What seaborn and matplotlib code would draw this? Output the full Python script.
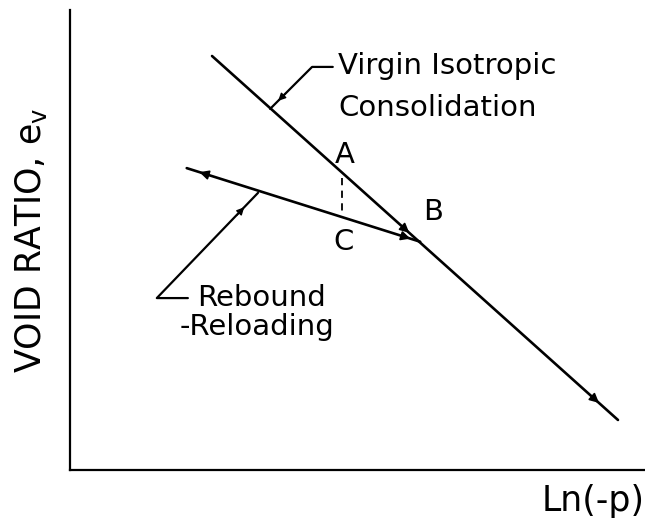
import matplotlib
matplotlib.use("Agg")
import matplotlib.pyplot as plt
import numpy as np
import pandas as pd
import seaborn as sns

# Idealised e - ln(-p) relations (arbitrary units)
ln_p_virgin = [2.47, 9.53]
e_virgin = [7.20, 0.87]
ln_p_rebound = [2.03, 6.09]
e_rebound = [5.25, 3.97]
ln_p_ac = 4.73  # abscissa of the A-C comparison

sns.set_style("white")
plt.rcParams["font.family"] = ["DejaVu Sans"]
plt.rcParams["text.color"] = "black"
plt.rcParams["axes.labelcolor"] = "black"

fig = plt.figure(figsize=(6.45, 5.31), dpi=100)
ax = fig.add_axes([70 / 645, 61 / 531, 575 / 645, 460 / 531])

df = pd.concat([
    pd.DataFrame({"ln_p": ln_p_virgin, "e": e_virgin, "branch": "virgin"}),
    pd.DataFrame({"ln_p": ln_p_rebound, "e": e_rebound, "branch": "rebound"}),
])
sns.lineplot(data=df, x="ln_p", y="e", units="branch", estimator=None,
             color="black", linewidth=1.9, ax=ax, legend=False)


def on_line(xs, ys, x):
    return np.interp(x, xs, ys) if xs[0] < xs[1] else np.interp(x, xs[::-1], ys[::-1])


def arrow_head(xs, ys, x, direction=1, size=14):
    y = on_line(xs, ys, x)
    dx = 0.05 * direction
    y0 = on_line(xs, ys, x - dx)
    ax.annotate("", xy=(x, y), xytext=(x - dx, y0),
                arrowprops=dict(arrowstyle="-|>", color="black", lw=1.2,
                                mutation_scale=size, shrinkA=0, shrinkB=0))


# direction arrows along the virgin and rebound-reloading branches
arrow_head(ln_p_virgin, e_virgin, 5.90, 1)
arrow_head(ln_p_virgin, e_virgin, 9.20, 1)
arrow_head(ln_p_rebound, e_rebound, 2.25, -1)
arrow_head(ln_p_rebound, e_rebound, 5.92, 1)

# vertical dashed segment between A and C
e_a = on_line(ln_p_virgin, e_virgin, ln_p_ac)
e_c = on_line(ln_p_rebound, e_rebound, ln_p_ac)
ax.plot([ln_p_ac, ln_p_ac], [e_a - 0.10, e_c + 0.08], color="black",
        linewidth=1.3, linestyle=(0, (4, 3)))

# leader lines for the branch labels
lead_v_x = [4.57, 4.21, 3.48]
lead_v_y = [7.01, 7.01, 6.28]
lead_r_x = [2.05, 1.51, 3.27]
lead_r_y = [2.99, 2.99, 4.82]
ax.plot(lead_v_x, lead_v_y, color="black", linewidth=1.6)
ax.plot(lead_r_x, lead_r_y, color="black", linewidth=1.6)
ax.annotate("", xy=(3.62, 6.42), xytext=(3.75, 6.55),
            arrowprops=dict(arrowstyle="-|>", color="black", lw=1.0,
                            mutation_scale=11, shrinkA=0, shrinkB=0))
ax.annotate("", xy=(3.03, 4.57), xytext=(2.90, 4.43),
            arrowprops=dict(arrowstyle="-|>", color="black", lw=1.0,
                            mutation_scale=11, shrinkA=0, shrinkB=0))

fs = 21
ax.text(4.66, 7.03, "Virgin Isotropic", fontsize=fs, va="center", ha="left")
ax.text(4.66, 6.30, "Consolidation", fontsize=fs, va="center", ha="left")
ax.text(4.78, 5.48, "A", fontsize=fs, va="center", ha="center")
ax.text(6.31, 4.49, "B", fontsize=fs, va="center", ha="center")
ax.text(4.75, 3.97, "C", fontsize=fs, va="center", ha="center")
ax.text(2.21, 2.99, "Rebound", fontsize=fs, va="center", ha="left")
ax.text(1.91, 2.49, "-Reloading", fontsize=fs, va="center", ha="left")

ax.set_xlim(0, 10)
ax.set_ylim(0, 8)
ax.set_xticks([])
ax.set_yticks([])
ax.set_ylabel("VOID RATIO, e$_\\mathregular{v}$", fontsize=25, labelpad=15)
ax.set_xlabel("Ln(-p)", fontsize=25, loc="right", labelpad=10)
for side in ("top", "right"):
    ax.spines[side].set_visible(False)
for side in ("left", "bottom"):
    ax.spines[side].set_color("black")
    ax.spines[side].set_linewidth(1.6)

fig.savefig("out.png", dpi=100)
